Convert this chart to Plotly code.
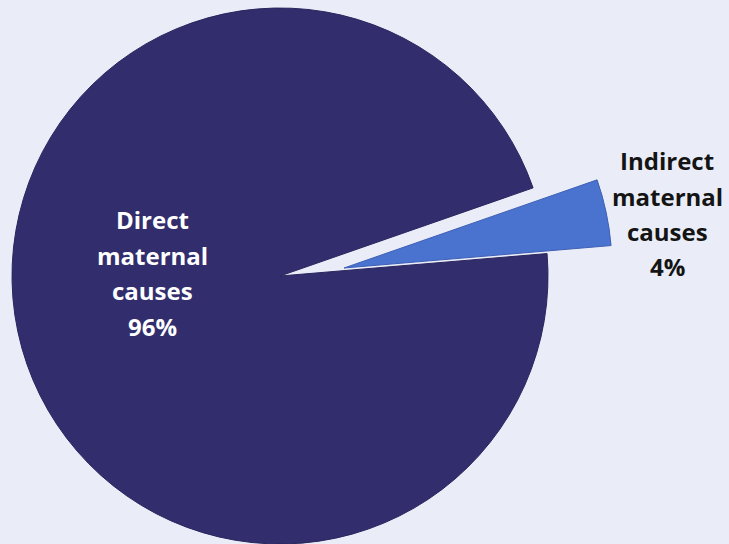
import plotly.graph_objects as go

# Data
labels = ["Indirect maternal causes", "Direct maternal causes"]
values = [4, 96]
label_lines = {
    "Direct maternal causes": ["Direct", "maternal", "causes"],
    "Indirect maternal causes": ["Indirect", "maternal", "causes"],
}

W, H = 729, 544
BG = "#eaedf7"
DIRECT_COLOR = "#322d6d"
INDIRECT_COLOR = "#4a72cf"
TRANSPARENT = "rgba(0,0,0,0)"

def px_x(p):
    return p / W

def px_y(p):
    return 1 - p / H

fig = go.Figure()

# Direct slice (indirect slot left empty)
fig.add_trace(go.Pie(
    labels=labels, values=values, sort=False, direction="counterclockwise",
    rotation=70.8, textinfo="none", hoverinfo="label+percent",
    marker=dict(colors=[TRANSPARENT, DIRECT_COLOR],
                line=dict(color=[TRANSPARENT, "#2a265e"], width=1)),
    domain=dict(x=[px_x(12), px_x(548)], y=[0, px_y(8)]),
    showlegend=False,
))

# Indirect slice, exploded outward
fig.add_trace(go.Pie(
    labels=labels, values=values, sort=False, direction="counterclockwise",
    rotation=70.8, textinfo="none", hoverinfo="label+percent",
    marker=dict(colors=[INDIRECT_COLOR, TRANSPARENT],
                line=dict(color=["#3d5fb5", TRANSPARENT], width=1)),
    domain=dict(x=[px_x(76), px_x(612)], y=[px_y(536), 1]),
    showlegend=False,
))

annotations = []
def add_label(lines, cx, baselines, color):
    for line, b in zip(lines, baselines):
        annotations.append(dict(
            text=line, x=px_x(cx), y=px_y(b - 8.5), xref="paper", yref="paper",
            xanchor="center", yanchor="middle", showarrow=False,
            font=dict(family="Open Sans", size=24, color=color, weight="bold"),
        ))

total = sum(values)
direct_lines = label_lines[labels[1]] + [f"{round(values[1] / total * 100)}%"]
indirect_lines = label_lines[labels[0]] + [f"{round(values[0] / total * 100)}%"]
add_label(direct_lines, 152, [228, 263.5, 299, 334.5], "#ffffff")
add_label(indirect_lines, 667, [169, 204.5, 240, 275.5], "#141414")

fig.update_layout(
    width=W, height=H,
    margin=dict(l=0, r=0, t=0, b=0),
    paper_bgcolor=BG, plot_bgcolor=BG,
    annotations=annotations,
)

fig.write_html(
    "out.html",
    config={"displayModeBar": False},
    post_script="document.body.style.margin='0';document.body.style.overflow='hidden';",
)
